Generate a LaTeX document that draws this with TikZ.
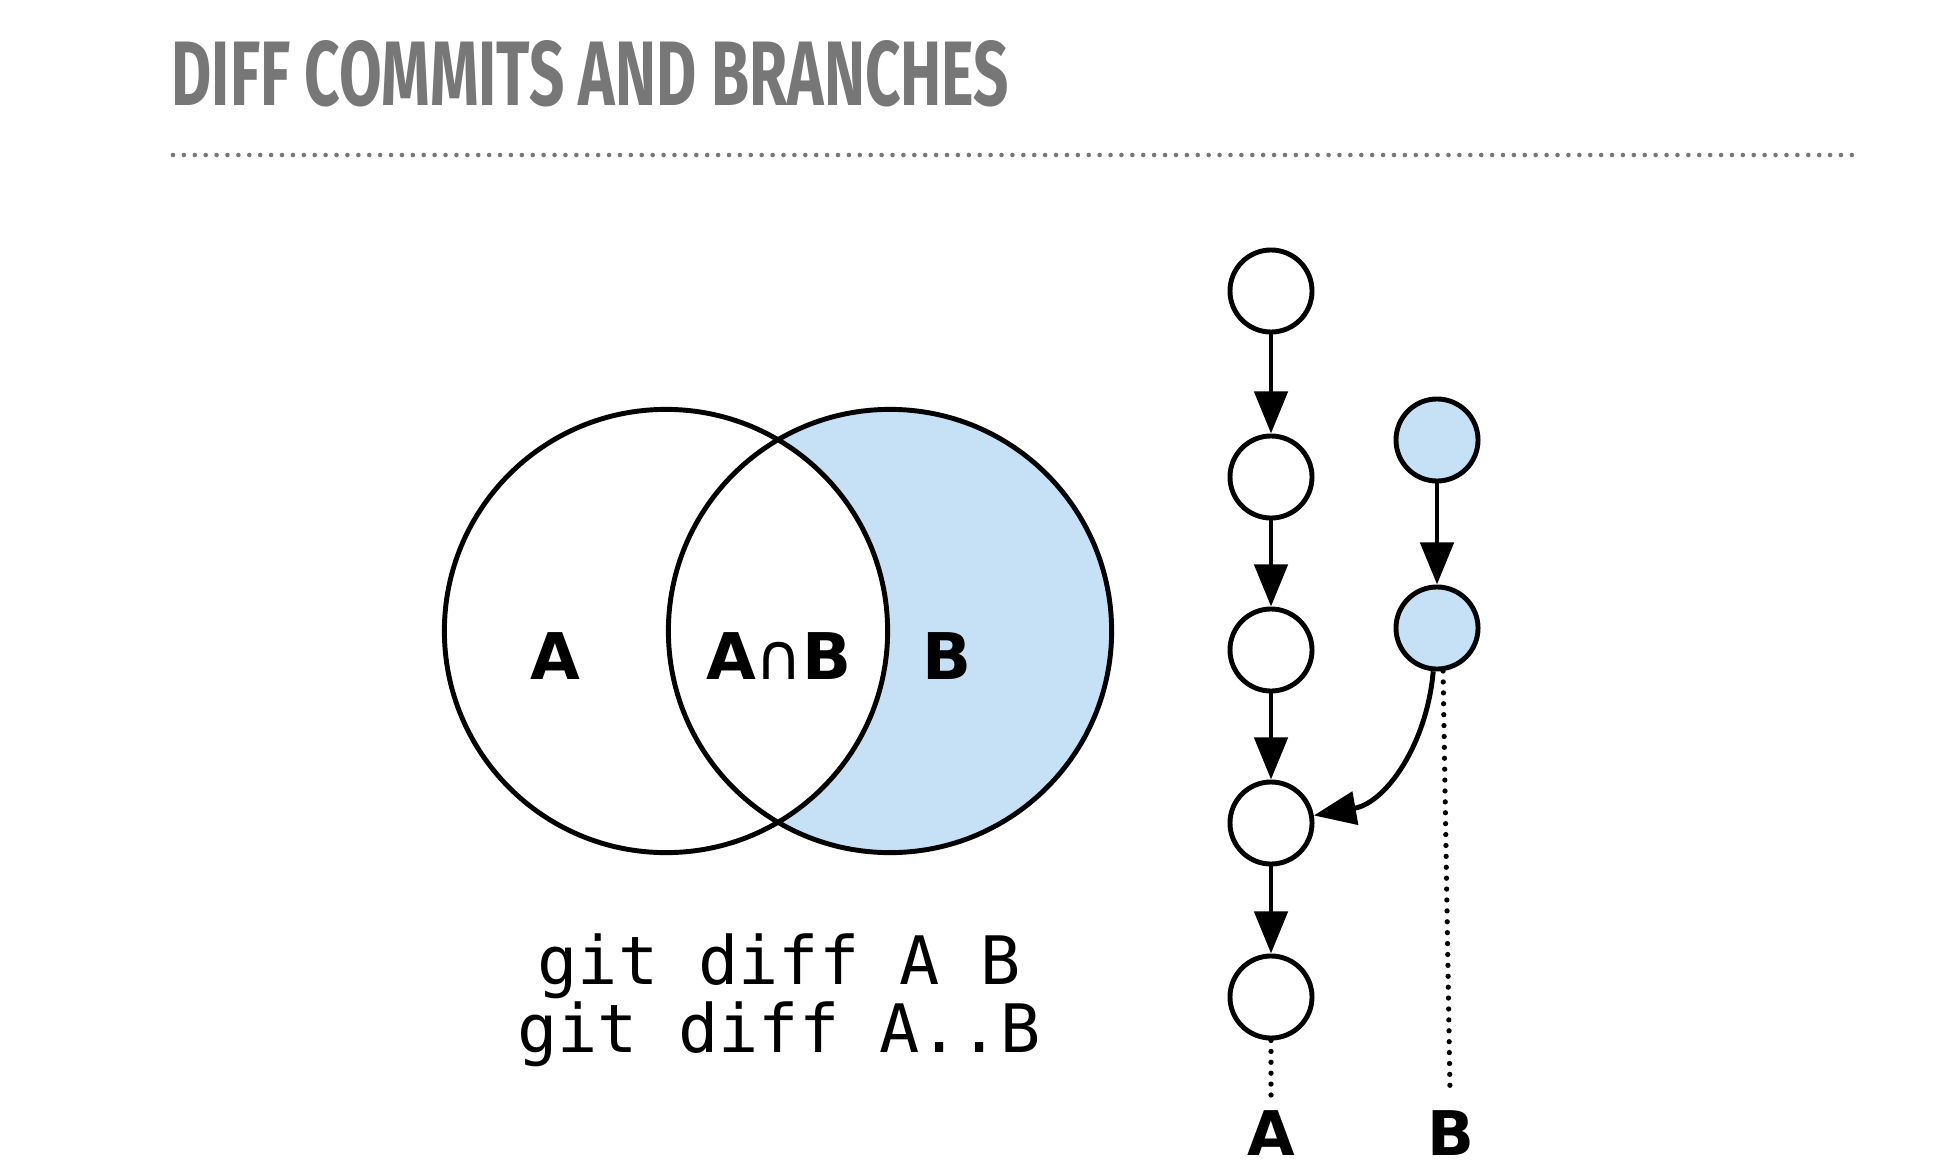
\documentclass[tikz,border=0pt]{standalone}
\usepackage{fontspec}
\setmainfont{DejaVu Sans}
\newfontfamily\titlefont{Fira Sans}
\newfontfamily\codefont{DejaVu Sans Mono}
\usetikzlibrary{arrows.meta}
\definecolor{titlegray}{HTML}{767776}
\definecolor{vennblue}{HTML}{C6E0F5}
\tikzset{
  commit/.style={circle,draw,line width=1.4pt,minimum size=0.82cm,inner sep=0pt,fill=white},
  tipcommit/.style={commit,fill=vennblue},
  parent/.style={line width=1.4pt,-{Triangle[length=12pt,width=9.4pt]}},
  refline/.style={line width=1.5pt,line cap=round,dash pattern=on 0pt off 3.1pt},
  reflabel/.style={font=\fontsize{17.5}{20}\selectfont\bfseries,inner sep=0pt},
  setlabel/.style={font=\fontsize{18.3}{22}\selectfont\bfseries,inner sep=0pt},
  codeline/.style={font=\codefont\fontsize{19}{19.4}\selectfont,inner sep=0pt,anchor=base},
}

\begin{document}
\begin{tikzpicture}[x=0.01cm,y=-0.01cm]
\useasboundingbox (0,0) rectangle (1940,1170);
% heading
\node[anchor=north west,inner sep=0pt,text=titlegray] (title) at (171,40)
  {\resizebox{8.37cm}{0.65cm}{\titlefont\bfseries DIFF COMMITS AND BRANCHES}};
\draw[titlegray,line width=1.3pt,line cap=round,dash pattern=on 0pt off 3.1pt] (173,155) -- (1855,155);

% venn
\fill[vennblue] (890,631) circle (2.215cm);
\fill[white] (666,631) circle (2.215cm);
\draw[line width=1.4pt] (666,631) circle (2.215cm) (890,631) circle (2.215cm);
\node[setlabel] (setA) at (555,656) {A};
\node[setlabel] (setAB) at (779,656) {A{\mdseries∩}B};
\node[setlabel] (setB) at (947,656) {B};
\node[codeline] (code1) at (779,984) {git diff A B};
\node[codeline] (code2) at (779,1052) {git diff A..B};

% commits
\node[commit] (c1) at (1271,291) {};
\node[commit] (c2) at (1271,477) {};
\node[commit] (c3) at (1271,650) {};
\node[commit] (c4) at (1271,823) {};
\node[commit] (c5) at (1271,997) {};
\node[tipcommit] (b1) at (1437,440) {};
\node[tipcommit] (b2) at (1437,628) {};
\draw[parent] (c1) -- (c2);
\draw[parent] (c2) -- (c3);
\draw[parent] (c3) -- (c4);
\draw[parent] (c4) -- (c5);
\draw[parent] (b1) -- (b2);
\draw[parent] (b2) to[out=-95,in=10] (c4);

% refs
\node[reflabel] (refA) at (1271,1133) {A};
\node[reflabel] (refB) at (1451,1133) {B};
\coordinate (endA) at (1271,1096);
\coordinate (endB) at (1450,1092);
\draw[refline] (c5) -- (endA);
\draw[refline] (b2.-82) -- (endB);
\end{tikzpicture}
\end{document}
